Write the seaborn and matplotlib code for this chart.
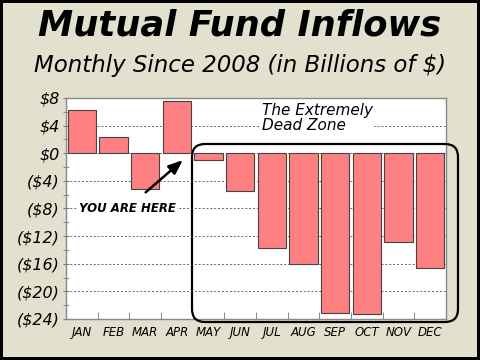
"""Mutual fund inflows by month, recreated with seaborn."""
import matplotlib

matplotlib.use("Agg")
import matplotlib.pyplot as plt
import pandas as pd
import seaborn as sns
from matplotlib.patches import FancyBboxPatch
from matplotlib.ticker import MultipleLocator

months = ["JAN", "FEB", "MAR", "APR", "MAY", "JUN",
          "JUL", "AUG", "SEP", "OCT", "NOV", "DEC"]
inflows = [6.2, 2.3, -5.2, 7.6, -1.0, -5.5,
           -13.7, -16.0, -23.1, -23.3, -12.9, -16.6]
y_ticks = [8, 4, 0, -4, -8, -12, -16, -20, -24]
y_tick_labels = ["$8", "$4", "$0", "($4)", "($8)", "($12)",
                 "($16)", "($20)", "($24)"]

df = pd.DataFrame({"month": months, "inflow": inflows})

sns.set_style("white")
plt.rcParams["font.family"] = ["DejaVu Sans"]
plt.rcParams["text.color"] = "black"
plt.rcParams["xtick.labelcolor"] = "black"
plt.rcParams["ytick.labelcolor"] = "black"

bg = "#e2e1cd"
fig = plt.figure(figsize=(4.8, 3.6), dpi=100)
fig.patch.set_facecolor(bg)
fig.patch.set_edgecolor("black")
fig.patch.set_linewidth(4)

ax = fig.add_axes([0.1375, 0.114, 0.7915, 0.614])
ax.set_facecolor("white")
sns.barplot(data=df, x="month", y="inflow", color="#ff8080", saturation=1,
            width=0.9, edgecolor="#444444", linewidth=0.8, ax=ax, zorder=3)

ax.set_xlim(-0.5, len(months) - 0.5)
ax.set_ylim(-24, 8)
ax.set_xlabel("")
ax.set_ylabel("")

ax.set_yticks(y_ticks, y_tick_labels, fontsize=11.5, fontstyle="italic")
ax.yaxis.set_minor_locator(MultipleLocator(2))
ax.tick_params(axis="y", which="both", direction="inout", length=5,
               color="#777777", left=True, pad=2)
ax.set_xticks(range(len(months)), months, fontsize=8.5, fontstyle="italic")
ax.set_xticks([i + 0.5 for i in range(len(months) - 1)], minor=True)
ax.tick_params(axis="x", which="major", length=0, pad=5)
ax.tick_params(axis="x", which="minor", direction="in", length=5,
               color="#777777", bottom=True)

ax.grid(axis="y", which="major", linestyle=(0, (2, 2)), color="#666666",
        linewidth=0.7, zorder=0)
for s in ax.spines.values():
    s.set_color("#888888")
    s.set_linewidth(1)

fig.text(0.5, 0.93, "Mutual Fund Inflows", ha="center", va="center",
         fontsize=25.5, fontweight="bold", fontstyle="italic")
fig.text(0.5, 0.817, "Monthly Since 2008 (in Billions of $)", ha="center",
         va="center", fontsize=16.5, fontstyle="italic")

ax.text(5.69, 5.1, "The Extremely\nDead Zone", ha="left", va="center",
        fontsize=11, fontstyle="italic", linespacing=1.05, zorder=4,
        bbox=dict(facecolor="white", edgecolor="none", pad=1))

ax.annotate("YOU ARE HERE", xy=(3.19, -1.0), xytext=(1.43, -8.0),
            ha="center", va="center", fontsize=8.5, fontweight="bold",
            fontstyle="italic", zorder=4,
            bbox=dict(facecolor="white", edgecolor="none", pad=1),
            arrowprops=dict(arrowstyle="-|>,head_length=1.0,head_width=0.4",
                            color="black", lw=1.8, shrinkA=9, shrinkB=0))

zone = FancyBboxPatch((1.92, 0.38), 2.66, 1.78,
                      boxstyle="round,pad=0,rounding_size=0.13",
                      transform=fig.dpi_scale_trans, facecolor="none",
                      edgecolor="black", linewidth=1.6, zorder=10)
fig.patches.append(zone)

fig.savefig("out.png", dpi=100, facecolor=fig.get_facecolor(),
            edgecolor=fig.get_edgecolor())
